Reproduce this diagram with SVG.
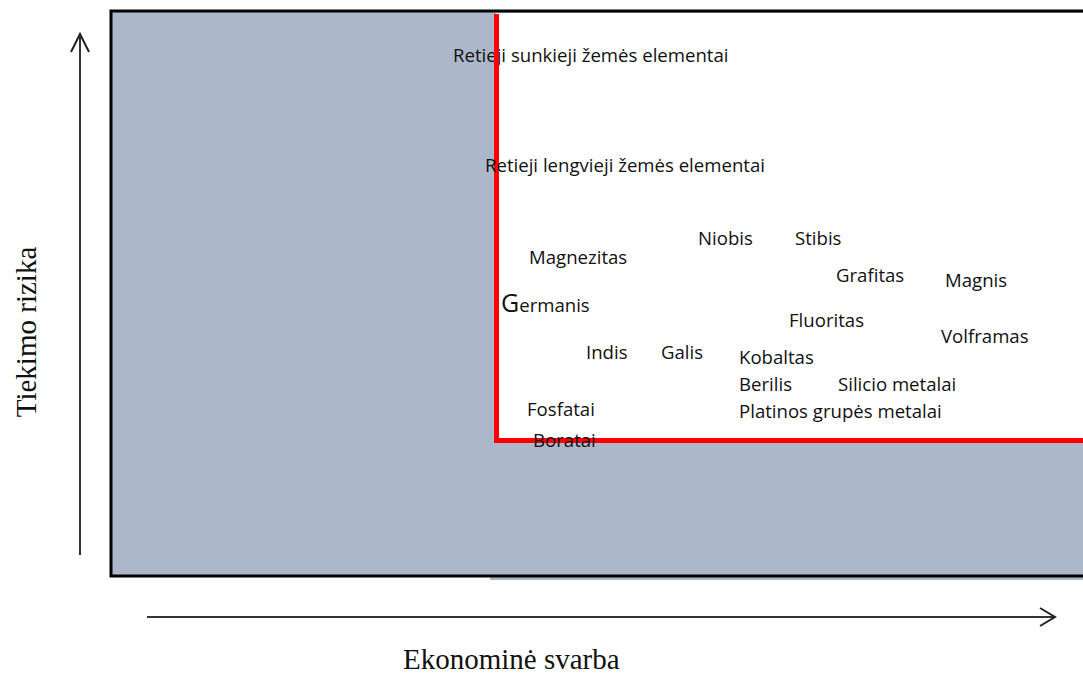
<svg xmlns="http://www.w3.org/2000/svg" width="1083" height="673" viewBox="0 0 1083 673">
  <style>
    .lbl { font-family: "Open Sans", "Liberation Sans", sans-serif; font-size: 18.6px; fill: #111; }
    .axis-title { font-family: "Liberation Serif", "Times New Roman", serif; font-size: 29px; fill: #111; }
    .axis { stroke: #333; stroke-width: 2; fill: none; }
    .head { stroke: #222; stroke-width: 2; fill: none; stroke-linejoin: miter; }
  </style>

  <!-- page background -->
  <rect x="0" y="0" width="1083" height="673" fill="#ffffff"/>

  <!-- chart area: grey field with a black frame -->
  <g id="field">
    <rect x="490" y="576" width="593" height="4" fill="#acb8ca"/>
    <rect x="111" y="11" width="980" height="565" fill="#acb8ca" stroke="#000" stroke-width="3"/>
    <!-- high-importance / high-risk zone -->
    <rect x="496" y="13" width="600" height="425" fill="#ffffff"/>
  </g>

  <!-- label drawn beneath the zone border -->
  <g id="node-retieji-sunkieji">
    <text class="lbl" x="453" y="62">Retieji sunkieji žemės elementai</text>
  </g>

  <!-- red border of the critical zone -->
  <g id="zone-border">
    <path d="M496.5 14 V440.5 H1090" fill="none" stroke="#ff0000" stroke-width="5"/>
  </g>

  <g id="node-retieji-lengvieji">
    <text class="lbl" x="485" y="172">Retieji lengvieji žemės elementai</text>
  </g>
  <g id="node-magnezitas"><text class="lbl" x="529" y="264">Magnezitas</text></g>
  <g id="node-niobis"><text class="lbl" x="698" y="245">Niobis</text></g>
  <g id="node-stibis"><text class="lbl" x="795" y="245">Stibis</text></g>
  <g id="node-grafitas"><text class="lbl" x="836" y="282">Grafitas</text></g>
  <g id="node-magnis"><text class="lbl" x="945" y="287">Magnis</text></g>
  <g id="node-germanis"><text class="lbl" x="501" y="312"><tspan font-size="25">G</tspan>ermanis</text></g>
  <g id="node-fluoritas"><text class="lbl" x="789" y="327">Fluoritas</text></g>
  <g id="node-volframas"><text class="lbl" x="941" y="343">Volframas</text></g>
  <g id="node-indis"><text class="lbl" x="586" y="359">Indis</text></g>
  <g id="node-galis"><text class="lbl" x="661" y="359">Galis</text></g>
  <g id="node-kobaltas"><text class="lbl" x="739" y="364">Kobaltas</text></g>
  <g id="node-berilis"><text class="lbl" x="739" y="391">Berilis</text></g>
  <g id="node-silicio"><text class="lbl" x="838" y="391">Silicio metalai</text></g>
  <g id="node-platinos"><text class="lbl" x="739" y="418">Platinos grupės metalai</text></g>
  <g id="node-fosfatai"><text class="lbl" x="527" y="416">Fosfatai</text></g>
  <g id="node-boratai"><text class="lbl" x="533" y="447">Boratai</text></g>

  <!-- axes -->
  <g id="connectors">
    <line class="axis" x1="80" y1="555" x2="80" y2="34"/>
    <polyline class="head" points="71,52 80,34 89,52"/>
    <line class="axis" x1="147" y1="617" x2="1054" y2="617"/>
    <polyline class="head" points="1040,608 1055,617 1040,626"/>
  </g>

  <!-- axis titles -->
  <text class="axis-title" x="403" y="669">Ekonominė svarba</text>
  <text class="axis-title" transform="translate(36 332) rotate(-90)" text-anchor="middle">Tiekimo rizika</text>
</svg>
